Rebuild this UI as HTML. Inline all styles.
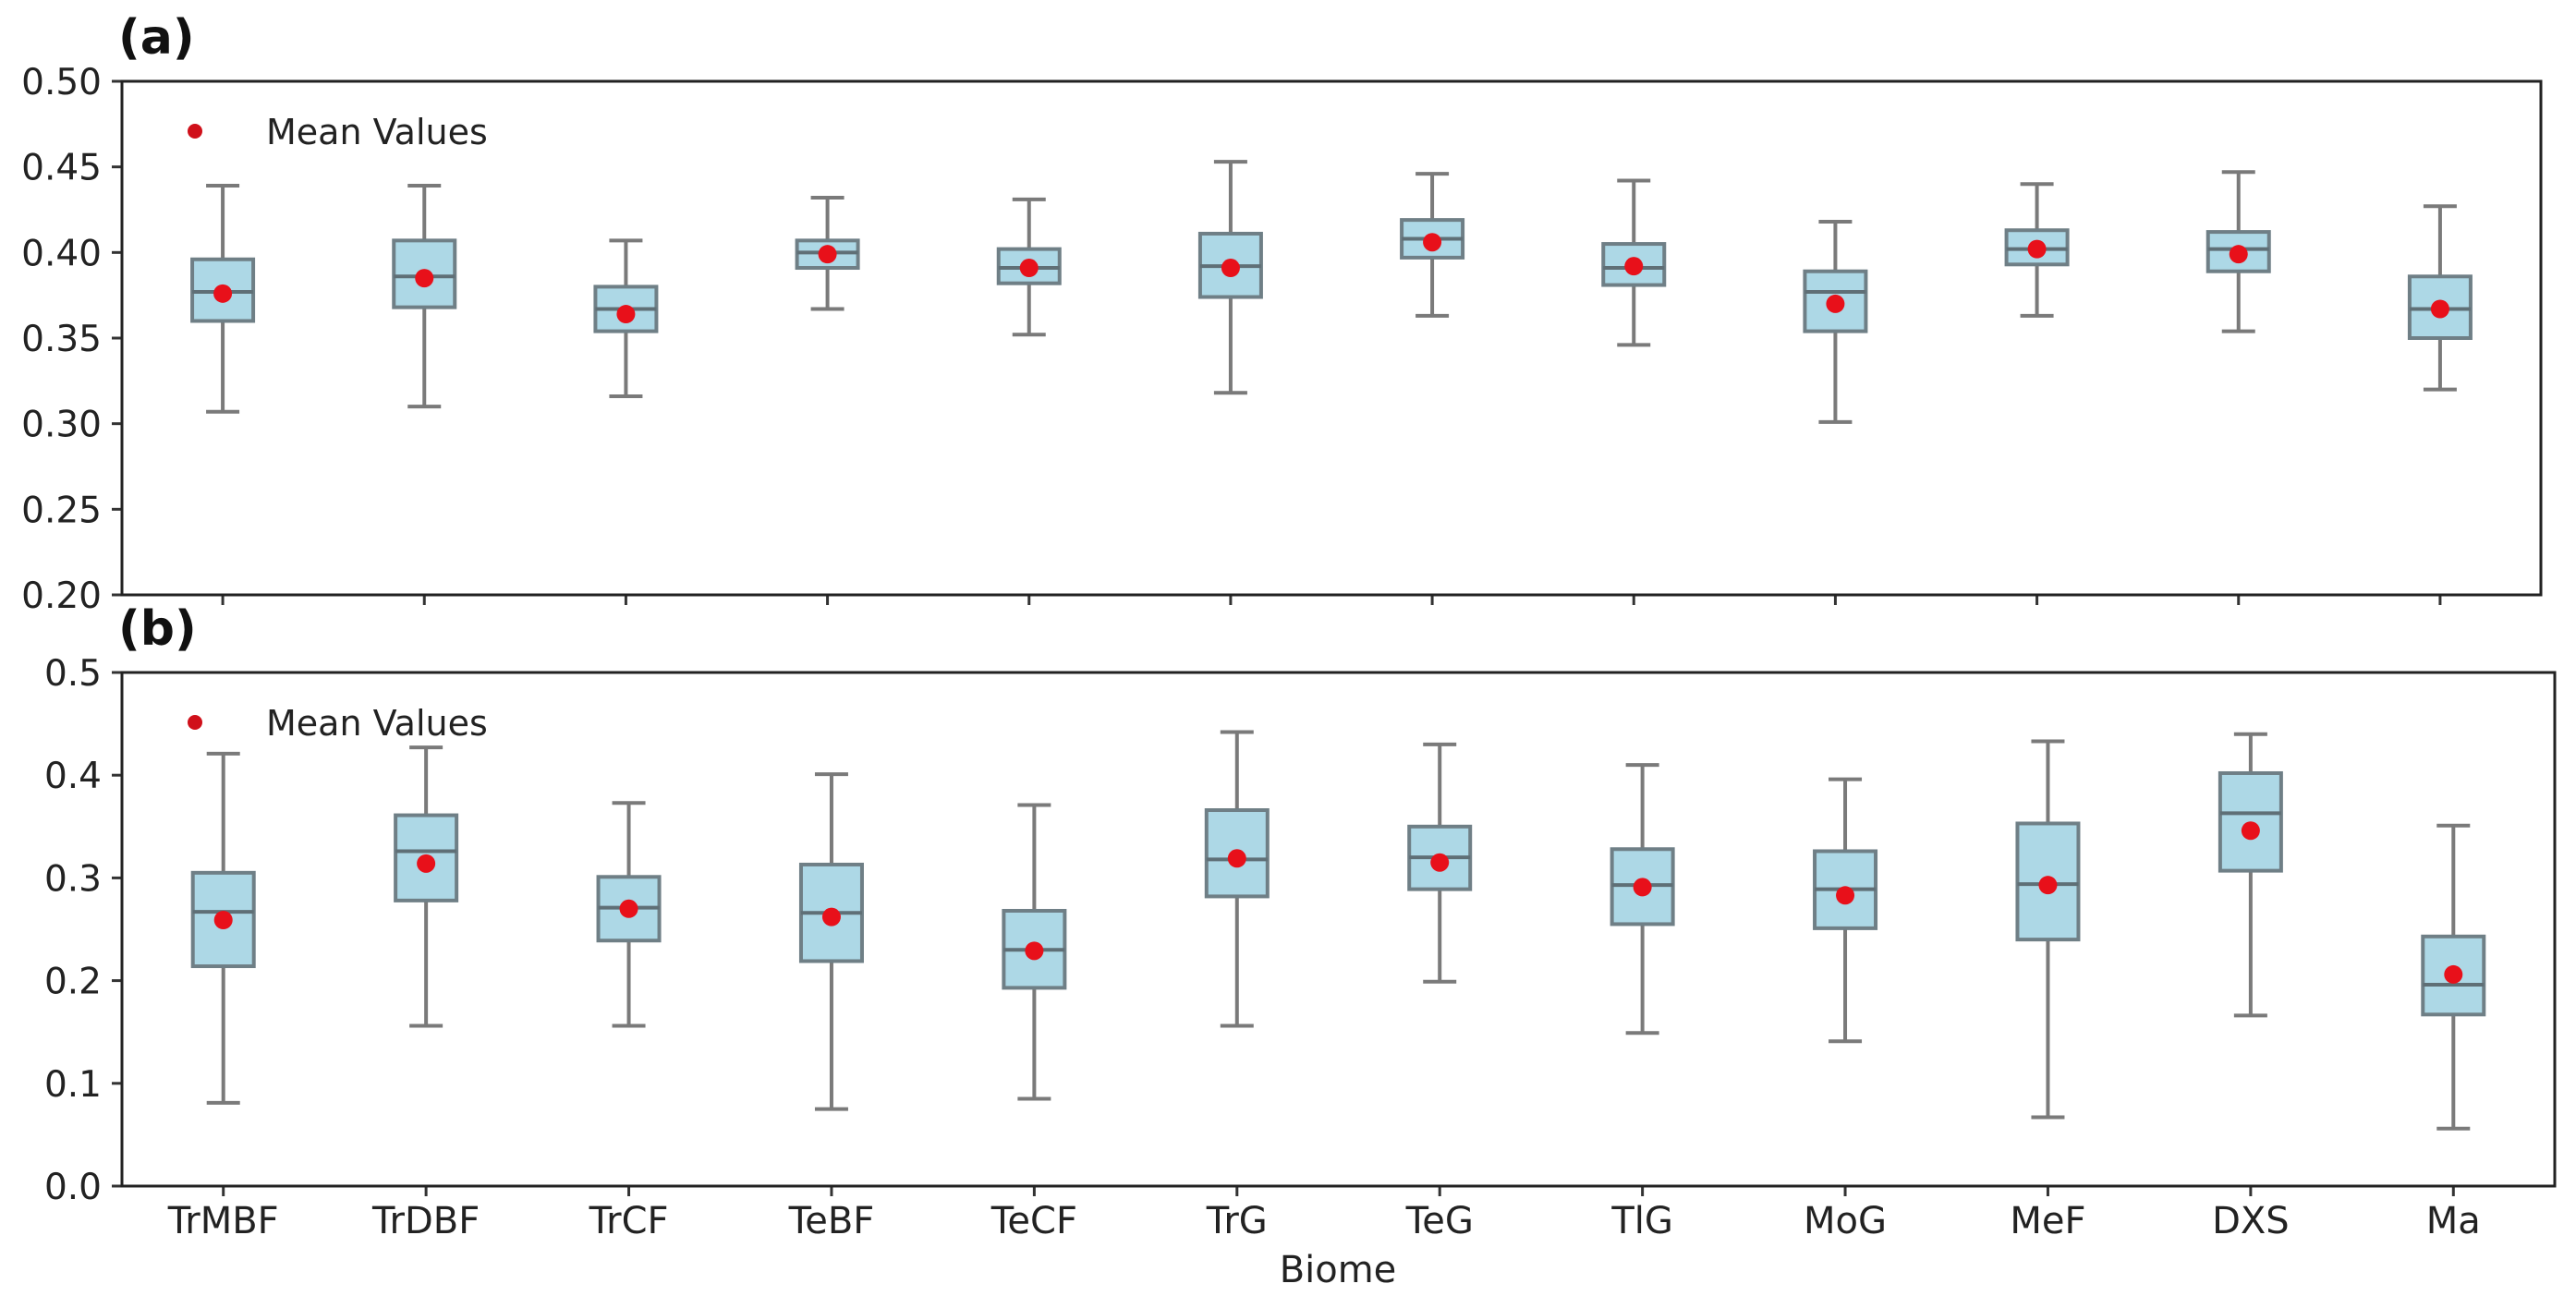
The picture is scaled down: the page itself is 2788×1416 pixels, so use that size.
<!DOCTYPE html>
<html><head><meta charset="utf-8"><style>
html,body{margin:0;padding:0;background:#fff;}
svg{display:block;font-family:"DejaVu Sans","Liberation Sans",sans-serif;}
</style></head><body>
<svg id="chart" width="2788" height="1416" viewBox="0 0 2788 1416" xmlns="http://www.w3.org/2000/svg"></svg>
<script>
const categories = ["TrMBF","TrDBF","TrCF","TeBF","TeCF","TrG","TeG","TlG","MoG","MeF","DXS","Ma"];
// panel a
const aWhiskLo = [0.307,0.310,0.316,0.367,0.352,0.318,0.363,0.346,0.301,0.363,0.354,0.320];
const aQ1      = [0.360,0.368,0.354,0.391,0.382,0.374,0.397,0.381,0.354,0.393,0.389,0.350];
const aMedian  = [0.377,0.386,0.367,0.400,0.391,0.392,0.408,0.391,0.377,0.402,0.402,0.367];
const aQ3      = [0.396,0.407,0.380,0.407,0.402,0.411,0.419,0.405,0.389,0.413,0.412,0.386];
const aWhiskHi = [0.439,0.439,0.407,0.432,0.431,0.453,0.446,0.442,0.418,0.440,0.447,0.427];
const aMean    = [0.376,0.385,0.364,0.399,0.391,0.391,0.406,0.392,0.370,0.402,0.399,0.367];
const aTicks   = ["0.20","0.25","0.30","0.35","0.40","0.45","0.50"];
// panel b
const bWhiskLo = [0.081,0.156,0.156,0.075,0.085,0.156,0.199,0.149,0.141,0.067,0.166,0.056];
const bQ1      = [0.214,0.278,0.239,0.219,0.193,0.282,0.289,0.255,0.251,0.240,0.307,0.167];
const bMedian  = [0.267,0.326,0.271,0.266,0.230,0.318,0.320,0.293,0.289,0.294,0.363,0.196];
const bQ3      = [0.305,0.361,0.301,0.313,0.268,0.366,0.350,0.328,0.326,0.353,0.402,0.243];
const bWhiskHi = [0.421,0.427,0.373,0.401,0.371,0.442,0.430,0.410,0.396,0.433,0.440,0.351];
const bMean    = [0.259,0.314,0.270,0.262,0.229,0.319,0.315,0.291,0.283,0.293,0.346,0.206];
const bTicks   = ["0.0","0.1","0.2","0.3","0.4","0.5"];

const NS="http://www.w3.org/2000/svg";
const svg=document.getElementById('chart');
function mk(tag,attrs,parent){const e=document.createElementNS(NS,tag);for(const k in attrs)e.setAttribute(k,attrs[k]);(parent||svg).appendChild(e);return e;}

function panel(id,box,ymin,ymax,ticks,lo,q1,med,q3,hi,mean,label,showX){
  const g=mk('g',{});
  
  
  const xs=i=>box.x0+(i+0.5)*(box.x1-box.x0)/categories.length;
  const ys=v=>box.y1-(v-ymin)/(ymax-ymin)*(box.y1-box.y0);
  const bw=66, cap=36, grey="#7a7a7a";
  ticks.forEach(t=>{
    const y=ys(parseFloat(t));
    const tk=mk('line',{x1:box.x0-11,x2:box.x0,y1:y,y2:y,stroke:'#333','stroke-width':3},g);
    
    
    const tx=mk('text',{x:box.x0-22,y:y+14,'text-anchor':'end','font-size':39,fill:'#222'},g);
    tx.textContent=t;
    
    
  });
  categories.forEach((c,i)=>{
    const x=xs(i);
    const tk=mk('line',{x1:x,x2:x,y1:box.y1,y2:box.y1+11,stroke:'#333','stroke-width':3},g);
    
    
    if(showX){
      const tx=mk('text',{x:x,y:box.y1+51,'text-anchor':'middle','font-size':40,fill:'#222'},g);
      tx.textContent=c;
      
      
    }
    const bg=mk('g',{},g);
    
    
    mk('line',{x1:x,x2:x,y1:ys(hi[i]),y2:ys(q3[i]),stroke:grey,'stroke-width':4},bg);
    mk('line',{x1:x,x2:x,y1:ys(q1[i]),y2:ys(lo[i]),stroke:grey,'stroke-width':4},bg);
    mk('line',{x1:x-cap/2,x2:x+cap/2,y1:ys(hi[i]),y2:ys(hi[i]),stroke:grey,'stroke-width':4},bg);
    mk('line',{x1:x-cap/2,x2:x+cap/2,y1:ys(lo[i]),y2:ys(lo[i]),stroke:grey,'stroke-width':4},bg);
    mk('rect',{x:x-bw/2,y:ys(q3[i]),width:bw,height:ys(q1[i])-ys(q3[i]),fill:'#add8e6',stroke:'#6f7f86','stroke-width':4},bg);
    mk('line',{x1:x-bw/2,x2:x+bw/2,y1:ys(med[i]),y2:ys(med[i]),stroke:'#5f6f76','stroke-width':4},bg);
    const m=mk('circle',{cx:x,cy:ys(mean[i]),r:10,fill:'#e8101a'},bg);
    
    
  });
  const fr=mk('rect',{x:box.x0,y:box.y0,width:box.x1-box.x0,height:box.y1-box.y0,fill:'none',stroke:'#222','stroke-width':3},g);
  
  
  const lg=mk('g',{},g);
  
  
  mk('circle',{cx:211,cy:box.y0+54,r:8,fill:'#d0101a'},lg);
  const lt=mk('text',{x:288,y:box.y0+68,'font-size':38,fill:'#222'},lg);
  lt.textContent='Mean Values';
  const pl=mk('text',{x:128,y:box.y0-30,'font-size':52,'font-weight':'bold',fill:'#111'},g);
  pl.textContent=label;
  
  
}
panel('a',{x0:132,x1:2750,y0:88,y1:644},0.2,0.5,aTicks,aWhiskLo,aQ1,aMedian,aQ3,aWhiskHi,aMean,'(a)',false);
panel('b',{x0:132,x1:2765,y0:728,y1:1284},0.0,0.5,bTicks,bWhiskLo,bQ1,bMedian,bQ3,bWhiskHi,bMean,'(b)',true);
const xt=mk('text',{x:1448,y:1388,'text-anchor':'middle','font-size':40,fill:'#222'});
xt.textContent='Biome';


</script>
</body></html>
